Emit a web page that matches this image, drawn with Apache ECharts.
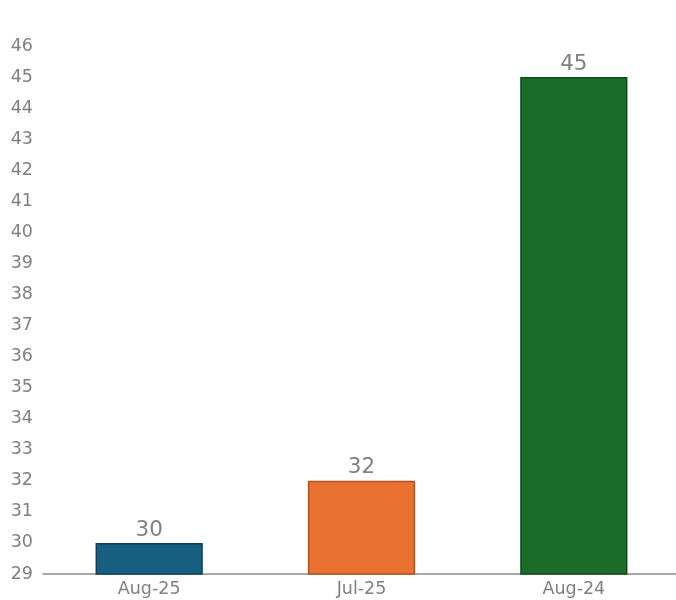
<!DOCTYPE html>
<html><head><meta charset="utf-8">
<script src="https://cdn.jsdelivr.net/npm/echarts@6/dist/echarts.min.js"></script>
<style>html,body{margin:0;padding:0;background:#fff}#c{width:676px;height:600px}</style>
</head><body><div id="c"></div>
<script>
const categories = ['Aug-25', 'Jul-25', 'Aug-24'];
const values = [30, 32, 45];
const fills = ['#175f80', '#e97132', '#1b6c28'];
const borders = ['#0e3f57', '#b4521f', '#104a19'];
const chart = echarts.init(document.getElementById('c'));
chart.setOption({
  animation: false,
  textStyle: { fontFamily: 'DejaVu Sans' },
  grid: { left: 43, width: 637, top: 46, bottom: 26, containLabel: false, outerBoundsMode: 'none' },
  xAxis: {
    type: 'category', data: categories,
    axisLine: { lineStyle: { color: '#8c8c8c', width: 1.5 } },
    axisTick: { show: false },
    axisLabel: { color: '#808080', fontSize: 17.5, margin: 6, fontFamily: 'DejaVu Sans' }
  },
  yAxis: {
    type: 'value', min: 29, max: 46, interval: 1,
    axisLine: { show: false }, axisTick: { show: false }, splitLine: { show: false },
    axisLabel: { color: '#808080', fontSize: 17.5, margin: 10, fontFamily: 'DejaVu Sans', padding: [3, 0, 0, 0] }
  },
  series: [{
    type: 'bar', barWidth: '50.5%',
    data: values.map((v, i) => ({ value: v, itemStyle: { color: fills[i], borderColor: borders[i], borderWidth: 1.5 } })),
    label: { show: true, position: 'top', color: '#808080', fontSize: 21.5, distance: 2, fontFamily: 'DejaVu Sans' }
  }]
});
</script></body></html>
